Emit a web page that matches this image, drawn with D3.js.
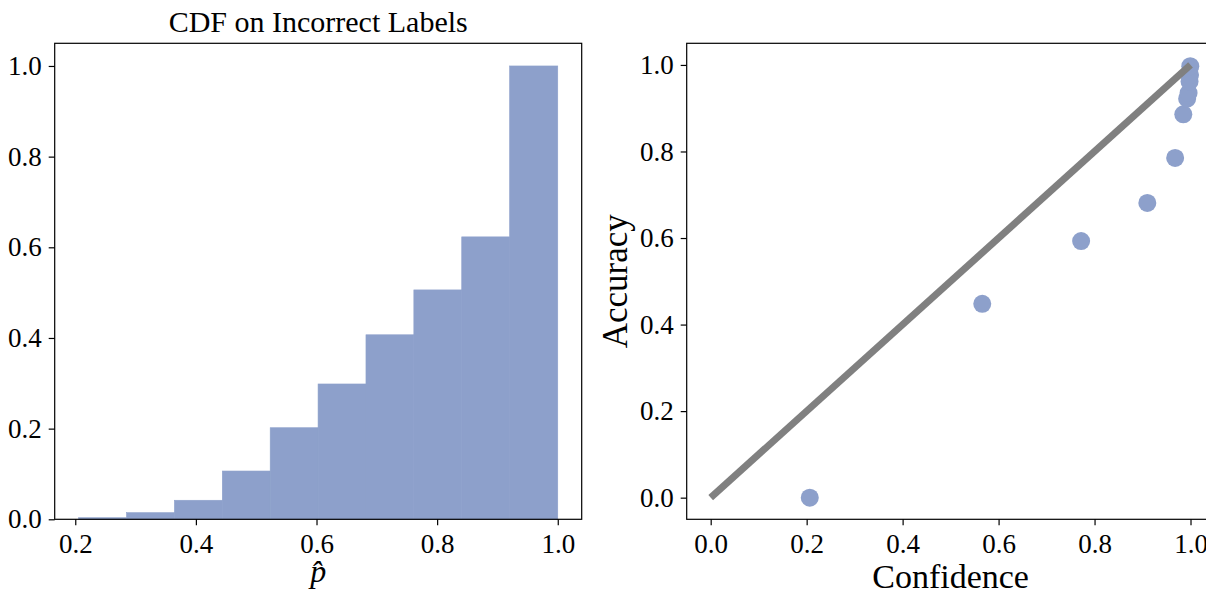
<!DOCTYPE html>
<html>
<head>
<meta charset="utf-8">
<script src="https://cdn.jsdelivr.net/npm/d3@7"></script>
<style>
  body { margin: 0; background: #fff; }
  text { font-family: "Liberation Serif", "DejaVu Serif", serif; fill: #000; }
</style>
</head>
<body>
<div id="chart"></div>
<script>
// left panel: CDF histogram (bin edges + cumulative height)
var binEdges = [0.2056, 0.285, 0.3644, 0.4438, 0.5232, 0.6026, 0.682, 0.7614, 0.8408, 0.9202, 1.0];
var cdfValues = [0.0035, 0.0146, 0.042, 0.1065, 0.202, 0.2985, 0.407, 0.506, 0.623, 1.0];
var leftXTicks = [0.2, 0.4, 0.6, 0.8, 1.0];
var leftYTicks = [0.0, 0.2, 0.4, 0.6, 0.8, 1.0];

// right panel: reliability points
var confidence = [0.2065, 0.566, 0.772, 0.910, 0.968, 0.985, 0.993, 0.996, 0.998, 0.999, 0.9995];
var accuracy   = [0.0,    0.448, 0.593, 0.681, 0.785, 0.886, 0.922, 0.935, 0.962, 0.977, 0.997];
var diagonal = [0, 1];
var rightTicks = [0.0, 0.2, 0.4, 0.6, 0.8, 1.0];

var W = 1206, H = 594;
var blue = "#8da0cb";

var svg = d3.select("#chart").append("svg")
  .attr("width", W)
  .attr("height", H);

var fmt = d3.format(".1f");
var plotTop = 43.3, plotBottom = 519.3;

// ---- left panel ----
var xL = d3.scaleLinear().domain([0.1659, 1.0397]).range([54.7, 581.7]);
var yL = d3.scaleLinear().domain([0, 1.05]).range([plotBottom, plotTop]);

var gL = svg.append("g");
gL.selectAll("rect.bar")
  .data(cdfValues)
  .enter()
  .append("rect")
  .attr("class", "bar")
  .attr("x", function(d, i) { return xL(binEdges[i]); })
  .attr("width", function(d, i) { return xL(binEdges[i + 1]) - xL(binEdges[i]); })
  .attr("y", function(d) { return yL(d); })
  .attr("height", function(d) { return yL(0) - yL(d); })
  .attr("fill", blue)
  .attr("stroke", blue)
  .attr("stroke-width", 0.6);

drawAxes(gL, xL, yL, leftXTicks, leftYTicks);

gL.append("text")
  .attr("x", (xL.range()[0] + xL.range()[1]) / 2)
  .attr("y", 32)
  .attr("text-anchor", "middle")
  .style("font-size", "30px")
  .text("CDF on Incorrect Labels");

gL.append("text")
  .attr("x", (xL.range()[0] + xL.range()[1]) / 2)
  .attr("y", 582)
  .attr("text-anchor", "middle")
  .style("font-size", "32px")
  .style("font-style", "italic")
  .text("p\u0302");

// ---- right panel ----
var xR = d3.scaleLinear().domain([-0.05, 1.05]).range([686.7, 1214.5]);
var yR = d3.scaleLinear().domain([-0.05, 1.05]).range([plotBottom, plotTop]);

var gR = svg.append("g");

gR.selectAll("circle.pt")
  .data(confidence)
  .enter()
  .append("circle")
  .attr("class", "pt")
  .attr("cx", function(d) { return xR(d); })
  .attr("cy", function(d, i) { return yR(accuracy[i]); })
  .attr("r", 9)
  .attr("fill", blue);

gR.append("line")
  .attr("x1", xR(diagonal[0])).attr("y1", yR(diagonal[0]))
  .attr("x2", xR(diagonal[1])).attr("y2", yR(diagonal[1]))
  .attr("stroke", "#808080")
  .attr("stroke-width", 7);

drawAxes(gR, xR, yR, rightTicks, rightTicks);

gR.append("text")
  .attr("x", (xR.range()[0] + xR.range()[1]) / 2)
  .attr("y", 588)
  .attr("text-anchor", "middle")
  .style("font-size", "34px")
  .text("Confidence");

gR.append("text")
  .attr("transform", "translate(627," + (plotTop + plotBottom) / 2 + ") rotate(-90)")
  .attr("text-anchor", "middle")
  .style("font-size", "35px")
  .text("Accuracy");

function drawAxes(g, x, y, xt, yt) {
  var ax = g.append("g")
    .attr("transform", "translate(0," + plotBottom + ")")
    .call(d3.axisBottom(x).tickValues(xt).tickFormat(fmt).tickSize(6).tickPadding(9));
  var ay = g.append("g")
    .attr("transform", "translate(" + x.range()[0] + ",0)")
    .call(d3.axisLeft(y).tickValues(yt).tickFormat(fmt).tickSize(6).tickPadding(7));
  [ax, ay].forEach(function(a) {
    a.select(".domain").remove();
    a.selectAll("line").attr("stroke", "#000").attr("stroke-width", 1.2);
    a.selectAll("text").style("font-size", "27px").style("font-family", "Liberation Serif");
  });
  // frame
  g.append("rect")
    .attr("x", x.range()[0])
    .attr("y", plotTop)
    .attr("width", x.range()[1] - x.range()[0])
    .attr("height", plotBottom - plotTop)
    .attr("fill", "none")
    .attr("stroke", "#000")
    .attr("stroke-width", 1.2);
}
</script>
</body>
</html>
